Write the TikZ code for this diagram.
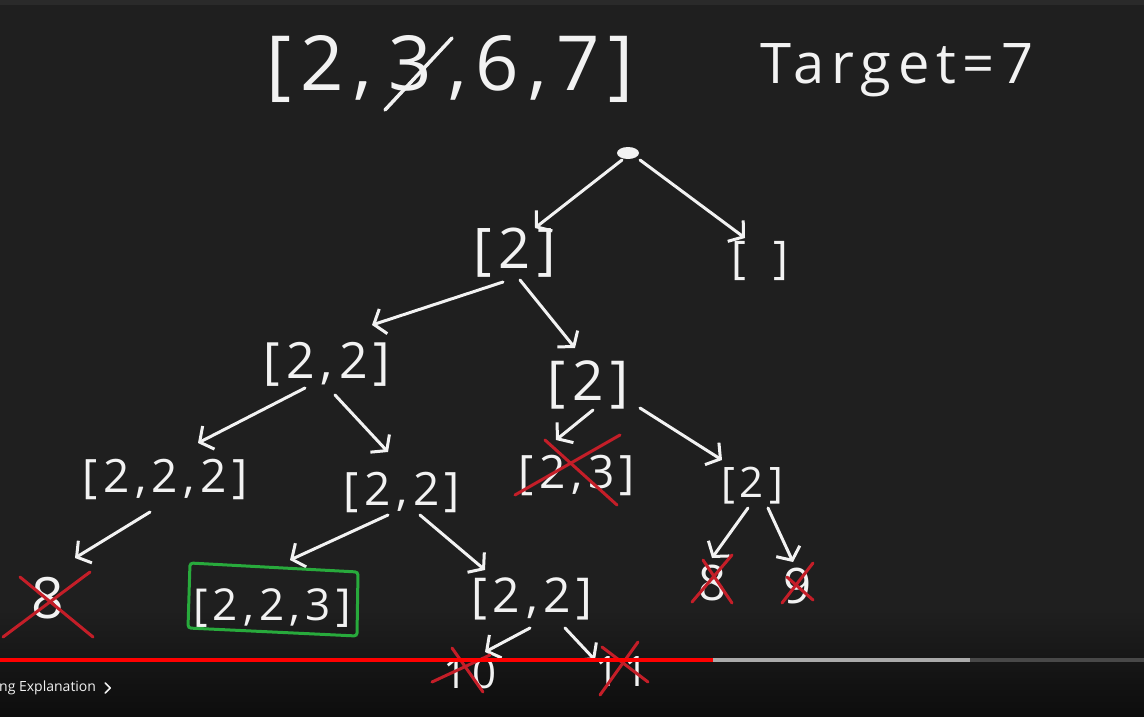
\documentclass[tikz,border=0pt]{standalone}
\usepackage{fontspec}
\usetikzlibrary{arrows.meta, positioning, shapes.geometric}
\newfontfamily\handfont[LetterSpace=12]{Open Sans}
\newfontfamily\uifont{Open Sans}
\definecolor{board}{RGB}{31, 31, 31}
\definecolor{boardtop}{RGB}{42, 42, 42}
\definecolor{boardlow}{RGB}{13, 13, 13}
\definecolor{chalk}{RGB}{242, 242, 242}
\definecolor{crossred}{RGB}{196, 30, 40}
\definecolor{okgreen}{RGB}{40, 170, 60}
\definecolor{barred}{RGB}{255, 0, 0}
\definecolor{bargray}{RGB}{170, 170, 170}
\definecolor{bardark}{RGB}{72, 72, 72}

\begin{document}
\begin{tikzpicture}[
    x=1pt, y=-1pt,
    % Node styles
    hand/.style={
        text=chalk,
        inner sep=0pt,
        anchor=base,
        font=\handfont\fontsize{#1}{#1}\selectfont
    },
    hand/.default=48,
    arrow/.style={
        -{Straight Barb[length=10pt, width=26pt]},
        line width=3pt,
        line cap=round,
        line join=round,
        color=chalk
    },
    cross/.style={
        line width=3pt,
        line cap=round,
        color=crossred
    },
    strike/.style={
        line width=3.5pt,
        line cap=round,
        color=chalk
    }
]

% ============================================
% BOARD
% ============================================
\useasboundingbox (0,0) rectangle (1144,716);
\fill[board] (0,0) rectangle (1144,716);
\fill[boardtop] (0,0) rectangle (1144,5);
\shade[top color=board, bottom color=boardlow] (0,610) rectangle (1144,716);

% ============================================
% HEADER
% ============================================

% candidates, with 3 struck out
\node[hand=76] (three) at (410,90) {3};
\node[hand=76, base left=16pt of three] (lsta) {[2,};
\node[hand=76, base right=16pt of three] (lstb) {,6,7]};
\draw[strike] ([shift={(-25,20)}]three.base) -- ([shift={(42,-52)}]three.base);

% target
\node[hand=56] (target) at (897,83) {Target=7};

% ============================================
% TREE
% ============================================

% root
\node[ellipse, fill=chalk, minimum width=22pt, minimum height=12pt, inner sep=0pt] (root) at (628,153) {};

% level 1
\node[hand=56] (n2) at (515,268) {[2]};
\node[hand=45] (nE) at (760,273) {[\hspace{28pt}]};

% level 2
\node[hand=50] (n22) at (327,378) {[2,2]};
\node[hand=55] (n2b) at (588,400) {[2]};

% level 3
\node[hand=46] (n222) at (165,492) {[2,2,2]};
\node[hand=46] (n22b) at (402,505) {[2,2]};
\node[hand=46] (n23) at (577,488) {[2,3]};
\node[hand=42] (n2c) at (752,497) {[2]};

% level 4
\node[hand=57] (n8a) at (48,618) {8};
\node[hand=44] (n223) at (272,620) {[2,2,3]};
\node[hand=48] (n22c) at (532,612) {[2,2]};
\node[hand=49] (n8b) at (713,600) {8};
\node[hand=49] (n9) at (798,603) {9};

% level 5
\node[hand=42] (n10) at (470,688) {10};
\node[hand=42] (n11) at (622,686) {11};

% ============================================
% BRANCHES
% ============================================
\draw[arrow] ([shift={(-6,7)}]root.center) -- ([shift={(20,-40)}]n2.base);
\draw[arrow] ([shift={(12,7)}]root.center) -- ([shift={(-15,-35)}]nE.base);
\draw[arrow] ([shift={(-12,14)}]n2.base) -- ([shift={(45,-53)}]n22.base);
\draw[arrow] ([shift={(5,12)}]n2.base) -- ([shift={(-13,-52)}]n2b.base);
\draw[arrow] ([shift={(-22,10)}]n22.base) -- ([shift={(33,-49)}]n222.base);
\draw[arrow] ([shift={(8,17)}]n22.base) -- ([shift={(-14,-53)}]n22b.base);
\draw[arrow] ([shift={(5,10)}]n2b.base) -- ([shift={(-21,-48)}]n23.base);
\draw[arrow] ([shift={(52,8)}]n2b.base) -- ([shift={(-30,-37)}]n2c.base);
\draw[arrow] ([shift={(-15,20)}]n222.base) -- ([shift={(27,-60)}]n8a.base);
\draw[arrow] ([shift={(-14,10)}]n22b.base) -- ([shift={(18,-60)}]n223.base);
\draw[arrow] ([shift={(18,10)}]n22b.base) -- ([shift={(-47,-42)}]n22c.base);
\draw[arrow] ([shift={(-4,11)}]n2c.base) -- ([shift={(-1,-42)}]n8b.base);
\draw[arrow] ([shift={(16,11)}]n2c.base) -- ([shift={(-5,-41)}]n9.base);
\draw[arrow] ([shift={(-2,16)}]n22c.base) -- ([shift={(15,-36)}]n10.base);
\draw[arrow] ([shift={(33,16)}]n22c.base) -- ([shift={(-27,-26)}]n11.base);

% ============================================
% DEAD ENDS AND ANSWER
% ============================================

% [2,3]
\draw[cross] ([shift={(-62,7)}]n23.base) -- ([shift={(43,-53)}]n23.base);
\draw[cross] ([shift={(-32,-48)}]n23.base) -- ([shift={(40,17)}]n23.base);
% 8 (left)
\draw[cross] ([shift={(-45,19)}]n8a.base) -- ([shift={(42,-46)}]n8a.base);
\draw[cross] ([shift={(-28,-41)}]n8a.base) -- ([shift={(45,19)}]n8a.base);
% 8 (right)
\draw[cross] ([shift={(-21,2)}]n8b.base) -- ([shift={(19,-45)}]n8b.base);
\draw[cross] ([shift={(-10,-40)}]n8b.base) -- ([shift={(19,3)}]n8b.base);
% 9
\draw[cross] ([shift={(-16,0)}]n9.base) -- ([shift={(15,-40)}]n9.base);
\draw[cross] ([shift={(-11,-26)}]n9.base) -- ([shift={(15,-3)}]n9.base);
% 10
\draw[cross] ([shift={(-38,-6)}]n10.base) -- ([shift={(20,-33)}]n10.base);
\draw[cross] ([shift={(-18,-40)}]n10.base) -- ([shift={(13,4)}]n10.base);
% 11
\draw[cross] ([shift={(-22,9)}]n11.base) -- ([shift={(16,-44)}]n11.base);
\draw[cross] ([shift={(-20,-39)}]n11.base) -- ([shift={(26,-4)}]n11.base);

% answer box
\draw[okgreen, line width=3pt, rounded corners=3pt]
    ([shift={(-82,-57)}]n223.base) -- ([shift={(86,-48)}]n223.base)
    -- ([shift={(85,16)}]n223.base) -- ([shift={(-84,8)}]n223.base) -- cycle;

% ============================================
% PLAYER BAR
% ============================================
\fill[barred] (0,658) rectangle (713,662);
\fill[bargray] (713,658) rectangle (970,662);
\fill[bardark] (970,658) rectangle (1144,662);
\node[anchor=west, inner sep=0pt, text=chalk, font=\uifont\fontsize{14}{14}\selectfont] (chapter) at (-1,688) {ng Explanation};
\draw[chalk, line width=1.6pt, line cap=round, line join=round]
    ([shift={(9,-5)}]chapter.east) -- ++(5,5) -- ++(-5,5);

\end{tikzpicture}
\end{document}
